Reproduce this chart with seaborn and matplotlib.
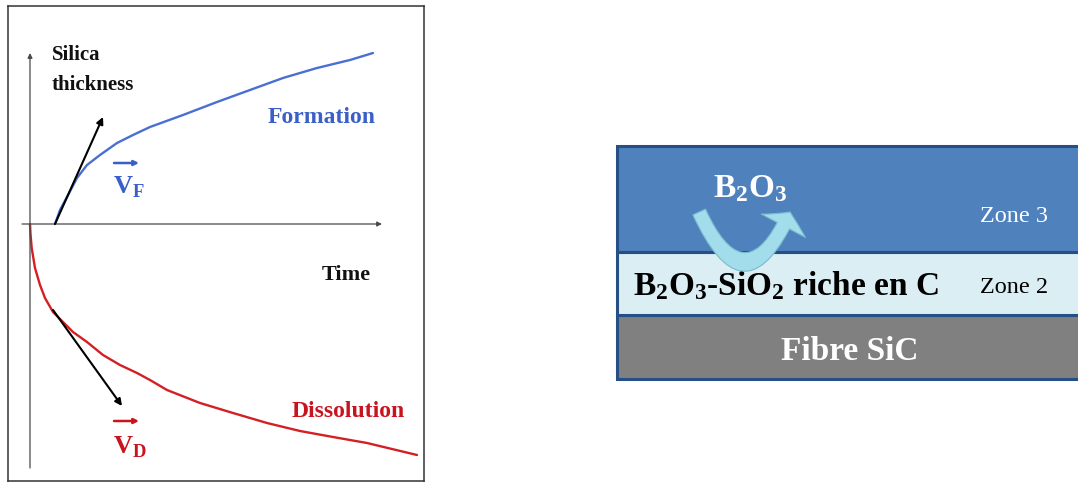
"""Silica formation / dissolution sketch next to the SiC fibre layer scheme.

Left: silica thickness vs time (formation above the axis, dissolution
below it) with the initial rate tangents V_F and V_D.
Right: the three layers (fibre SiC, B2O3-SiO2 zone, B2O3 zone).
"""

import matplotlib.pyplot as plt
import pandas as pd
import seaborn as sns
from matplotlib.patches import FancyArrowPatch
from matplotlib.path import Path

# Formation curve (time, thickness)
FORMATION_TIME = [2.5, 3.0, 3.7, 4.7, 5.7, 7.0, 8.7, 10.3, 12.0, 15.3,
                  18.7, 22.0, 25.3, 28.7, 32.0, 34.3]
FORMATION_THICKNESS = [0.0, 1.4, 2.7, 4.6, 5.9, 6.9, 8.1, 8.9, 9.7, 10.9,
                       12.2, 13.4, 14.6, 15.6, 16.4, 17.1]

# Dissolution curve (time, thickness)
DISSOLUTION_TIME = [0.0, 0.05, 0.17, 0.5, 1.0, 1.5, 2.3, 3.3, 4.3, 5.7,
                    7.3, 9.0, 10.7, 12.0, 13.7, 17.0, 20.3, 23.7, 27.0,
                    30.3, 33.7, 38.7]
DISSOLUTION_THICKNESS = [0.0, -1.0, -2.4, -4.4, -6.1, -7.4, -8.8, -9.8,
                         -10.8, -11.8, -13.1, -14.1, -14.9, -15.6, -16.6,
                         -17.9, -18.9, -19.9, -20.7, -21.3, -21.9, -23.1]

# Initial rate tangents: (start, end)
VF_TANGENT = [(2.5, 0.0), (7.3, 10.7)]
VD_TANGENT = [(2.3, -8.6), (9.2, -18.2)]

# Layer scheme, bottom to top
LAYERS = ["Fibre SiC", "Zone 2", "Zone 3"]
LAYER_THICKNESS = [0.64, 0.63, 1.06]
LAYER_COLORS = ["#808080", "#dbeef4", "#4f81bd"]

BLUE = "#4a6fd4"
BLUE_TEXT = "#3a5fc8"
RED = "#d41f24"
RED_TEXT = "#c8141e"
EDGE = "#264f86"


def draw_kinetics(ax: plt.Axes) -> None:
    df = pd.concat(
        [
            pd.DataFrame({"time": FORMATION_TIME,
                          "thickness": FORMATION_THICKNESS,
                          "process": "Formation"}),
            pd.DataFrame({"time": DISSOLUTION_TIME,
                          "thickness": DISSOLUTION_THICKNESS,
                          "process": "Dissolution"}),
        ],
        ignore_index=True,
    )
    sns.lineplot(
        data=df, x="time", y="thickness", hue="process",
        palette={"Formation": BLUE, "Dissolution": RED},
        estimator=None, sort=False, linewidth=1.7, legend=False, ax=ax,
    )
    for line in ax.get_lines():
        line.set_solid_joinstyle("round")

    # axes drawn as arrows from the origin
    axis_style = dict(arrowstyle="-|>", lw=0.9, color="#4a4a4a",
                      mutation_scale=7, shrinkA=0, shrinkB=0)
    ax.annotate("", xy=(0, 17.1), xytext=(0, -24.4), arrowprops=axis_style)
    ax.annotate("", xy=(35.2, 0), xytext=(-0.8, 0), arrowprops=axis_style)

    tangent_style = dict(arrowstyle="-|>", lw=1.5, color="black",
                         mutation_scale=10, shrinkA=0, shrinkB=0)
    for start, end in (VF_TANGENT, VD_TANGENT):
        ax.annotate("", xy=end, xytext=start, arrowprops=tangent_style)

    # vector labels
    for y_arrow, y_text, sub, color in ((6.1, 3.1, "F", BLUE_TEXT),
                                         (-19.7, -22.9, "D", RED_TEXT)):
        ax.annotate("", xy=(10.9, y_arrow), xytext=(8.4, y_arrow),
                    arrowprops=dict(arrowstyle="-|>", lw=1.8, color=color,
                                    mutation_scale=7, shrinkA=0, shrinkB=0))
        ax.text(8.3, y_text, rf"$\mathrm{{V}}_\mathrm{{{sub}}}$",
                color=color, fontsize=19, ha="left", va="baseline")

    bold = dict(fontweight="bold", ha="left", va="baseline")
    ax.text(2.2, 16.4, "Silica", fontsize=15, color="#111111", **bold)
    ax.text(2.2, 13.4, "thickness", fontsize=15, color="#111111", **bold)
    ax.text(23.8, 10.1, "Formation", fontsize=17, color=BLUE_TEXT, **bold)
    ax.text(29.2, -5.6, "Time", fontsize=16, color="#111111", **bold)
    ax.text(26.2, -19.3, "Dissolution", fontsize=17, color=RED_TEXT, **bold)

    ax.set_xlim(-2.2, 39.4)
    ax.set_ylim(-25.7, 21.8)
    ax.set_xticks([])
    ax.set_yticks([])
    ax.set_xlabel("")
    ax.set_ylabel("")
    for spine in ax.spines.values():
        spine.set_color("#333333")
        spine.set_linewidth(1.1)


def draw_layers(ax: plt.Axes) -> None:
    bottoms = [sum(LAYER_THICKNESS[:i]) for i in range(len(LAYERS))]
    ax.bar(0, LAYER_THICKNESS, bottom=bottoms, width=1, align="edge",
           color=LAYER_COLORS, edgecolor=EDGE, linewidth=2.2, clip_on=False)

    # B2O3 leaving zone 2 towards zone 3
    bend = Path([(0.172, 1.67), (0.268, 0.67), (0.362, 1.67)],
                [Path.MOVETO, Path.CURVE3, Path.CURVE3])
    ax.add_patch(FancyArrowPatch(
        path=bend, transform=ax.transData,
        arrowstyle="simple,head_length=1.1,head_width=3.6,tail_width=1.0",
        mutation_scale=10, facecolor="#a3dcea", edgecolor="#78bccd",
        linewidth=0.8, zorder=5,
    ))

    serif_bold = dict(fontweight="bold", fontsize=24, va="baseline")
    ax.text(0.278, 1.82, r"$\mathbf{B_2O_3}$", color="white",
            ha="center", zorder=6, **serif_bold)
    ax.text(0.354, 0.84, r"$\mathbf{B_2O_3}$-$\mathbf{SiO_2}$ riche en C",
            color="black", ha="center", **serif_bold)
    ax.text(0.487, 0.19, "Fibre SiC", color="white", ha="center",
            **serif_bold)
    ax.text(0.831, 1.57, "Zone 3", color="white", fontsize=17.5,
            ha="center", va="baseline")
    ax.text(0.831, 0.86, "Zone 2", color="black", fontsize=17.5,
            ha="center", va="baseline")

    ax.set_xlim(0, 1)
    ax.set_ylim(0, sum(LAYER_THICKNESS))
    ax.set_axis_off()


def main() -> None:
    sns.set_style("white")
    plt.rcParams["font.family"] = ["Liberation Serif", "DejaVu Serif"]
    plt.rcParams["mathtext.fontset"] = "custom"
    plt.rcParams["mathtext.rm"] = "Liberation Serif:bold"
    plt.rcParams["mathtext.bf"] = "Liberation Serif:bold"

    width, height = 1078, 483
    fig = plt.figure(figsize=(width / 100, height / 100), dpi=100)
    fig.patch.set_facecolor("white")

    ax_left = fig.add_axes([8 / width, 2 / height, 416 / width, 475 / height])
    ax_right = fig.add_axes([617 / width, (height - 379) / height,
                             478 / width, 233 / height])

    draw_kinetics(ax_left)
    draw_layers(ax_right)

    fig.savefig("out.png", dpi=100)
    plt.close(fig)


if __name__ == "__main__":
    main()
